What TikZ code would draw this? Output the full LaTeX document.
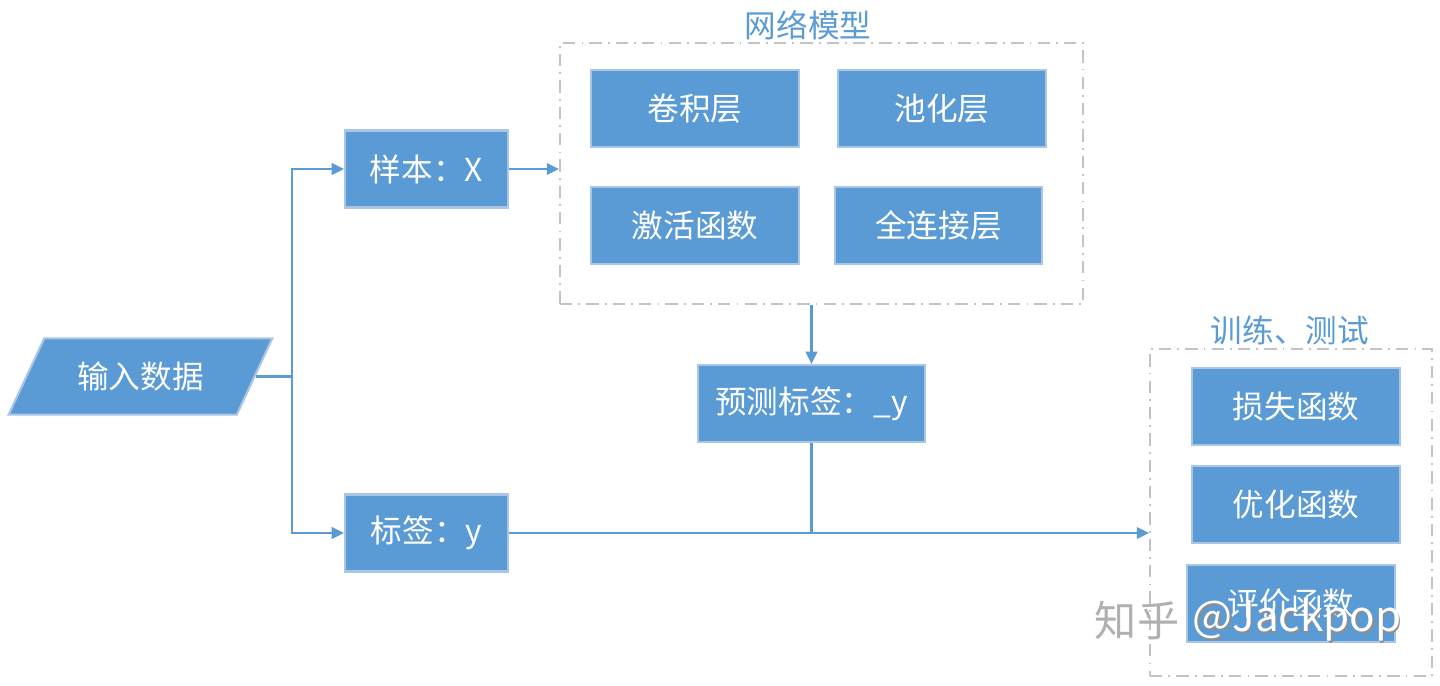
\documentclass[tikz,border=0pt]{standalone}
\usepackage{fontspec}
\usepackage{tikz}
\usetikzlibrary{shapes.geometric}
\usetikzlibrary{arrows.meta}
\usepackage{xcolor}
\newfontfamily\cjkfont{Noto Sans CJK SC}
\definecolor{boxblue}{HTML}{5B9BD5}
\definecolor{boxedge}{HTML}{A9C6E6}
\definecolor{framegray}{HTML}{BEC4CA}
\definecolor{markgray}{HTML}{8E8E8E}
\tikzset{
  blk/.style={rectangle, draw=boxedge, fill=boxblue, line width=1.2pt, text=white,
    minimum width=4.16cm, minimum height=1.54cm, inner sep=0pt,
    font=\cjkfont\fontsize{18pt}{20pt}\selectfont},
  inbox/.style={blk, trapezium, trapezium left angle=65, trapezium right angle=115,
    inner xsep=0.66cm, inner ysep=0.47cm, minimum width=0pt, minimum height=0pt},
  frm/.style={rectangle, draw=framegray, line width=1pt,
    dash pattern=on 7pt off 3.5pt on 1pt off 3.5pt, inner sep=0pt},
  ttl/.style={text=boxblue, inner sep=0pt, font=\cjkfont\fontsize{18pt}{20pt}\selectfont},
  con/.style={draw=boxblue, line width=1.4pt},
  arr/.style={con, -{Triangle[length=7pt,width=6.5pt]}}
}
\begin{document}
\begin{tikzpicture}
        \useasboundingbox (0,0) rectangle (28.8,13.7);
        \node[inbox] (inp) at (2.81,6.17) {输入数据};
        \node[blk, minimum width=3.26cm] (smp) at (8.53,10.32) {样本：X};
        \node[blk, minimum width=3.26cm] (lbl) at (8.53,3.04) {标签：y};
        \node[frm, minimum width=10.46cm, minimum height=5.22cm] (net) at (16.43,10.23) {};
        \node[ttl] (nettl) at (16.16,13.2) {网络模型};
        \node[blk] (conv) at (13.9,11.53) {卷积层};
        \node[blk] (pool) at (18.84,11.53) {池化层};
        \node[blk] (act) at (13.9,9.19) {激活函数};
        \node[blk, minimum width=4.14cm] (fc) at (18.77,9.19) {全连接层};
        \node[blk, minimum width=4.54cm] (pred) at (16.23,5.63) {预测标签：\_y};
        \node[frm, minimum width=5.64cm, minimum height=6.54cm] (train) at (25.82,3.45) {};
        \node[ttl] (trtl) at (25.8,7.1) {训练、测试};
        \node[blk] (loss) at (25.92,5.57) {损失函数};
        \node[blk] (opt) at (25.92,3.61) {优化函数};
        \node[blk] (eval) at (25.82,1.63) {评价函数};
        \coordinate (split) at (5.84,0 |- inp.east);
        \draw[con] (inp.east) -- (split);
        \draw[arr] (split) |- (smp.west);
        \draw[arr] (split) |- (lbl.west);
        \draw[arr] (smp.east) -- (smp -| net.west);
        \draw[arr] (pred |- net.south) -- (pred.north);
        \draw[con] (pred.south) -- (pred |- lbl);
        \draw[arr] (lbl.east) -- (lbl -| train.west);
        \node[text=markgray!70, font=\cjkfont\fontsize{24pt}{26pt}\selectfont] (mkzh) at (22.74,1.3) {知乎};
        \node[text=markgray, font=\cjkfont\fontsize{24pt}{26pt}\selectfont] at (25.97,1.27) {@Jackpop};
        \node[text=white, font=\cjkfont\fontsize{24pt}{26pt}\selectfont] (mken) at (25.94,1.3) {@Jackpop};
      \end{tikzpicture}
\end{document}
